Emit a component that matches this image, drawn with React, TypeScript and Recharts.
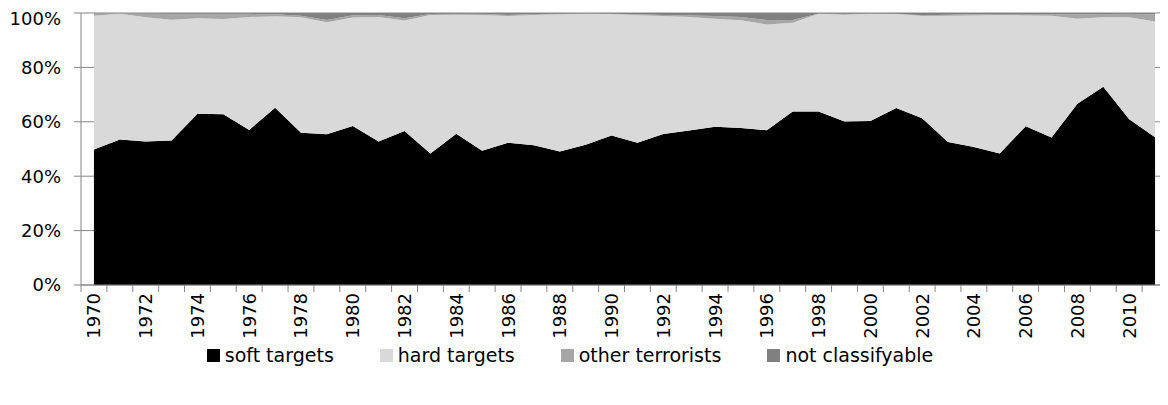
import { AreaChart, Area, XAxis, YAxis, CartesianGrid, Legend } from "recharts";

const years = [
  1970, 1971, 1972, 1973, 1974, 1975, 1976, 1977, 1978, 1979,
  1980, 1981, 1982, 1983, 1984, 1985, 1986, 1987, 1988, 1989,
  1990, 1991, 1992, 1993, 1994, 1995, 1996, 1997, 1998, 1999,
  2000, 2001, 2002, 2003, 2004, 2005, 2006, 2007, 2008, 2009,
  2010, 2011,
];

// shares in percent per year
const softTargets = [
  49.8, 53.5, 52.8, 53.1, 63.0, 62.8, 57.0, 65.2, 56.0, 55.4,
  58.5, 52.8, 56.6, 48.3, 55.6, 49.4, 52.3, 51.4, 49.1, 51.6,
  55.0, 52.3, 55.5, 56.8, 58.2, 57.7, 56.9, 63.8, 63.8, 60.1,
  60.3, 65.1, 61.3, 52.6, 50.7, 48.3, 58.4, 54.2, 66.6, 72.9,
  60.9, 54.3,
];
const hardTargets = [
  49.2, 46.2, 45.6, 44.4, 35.1, 35.0, 41.5, 33.6, 42.4, 41.2,
  39.8, 45.7, 40.6, 51.0, 43.8, 49.9, 46.6, 47.9, 50.4, 48.1,
  44.6, 46.9, 43.4, 41.7, 39.7, 39.6, 38.9, 32.6, 35.9, 39.3,
  39.4, 34.5, 37.6, 46.4, 48.4, 51.0, 40.7, 44.8, 31.3, 25.5,
  37.5, 42.6,
];
const otherTerrorists = [
  0.8, 0.2, 1.4, 2.2, 1.6, 1.9, 1.2, 0.7, 0.6, 0.8,
  0.9, 0.8, 0.9, 0.3, 0.3, 0.4, 0.4, 0.3, 0.2, 0.1,
  0.1, 0.3, 0.4, 0.6, 1.0, 1.2, 1.6, 1.0, 0.1, 0.3,
  0.1, 0.1, 0.3, 0.4, 0.4, 0.3, 0.5, 0.6, 1.6, 1.2,
  1.3, 2.6,
];
const notClassifyable = [
  0.2, 0.1, 0.2, 0.3, 0.3, 0.3, 0.3, 0.5, 1.0, 2.6,
  0.8, 0.7, 1.9, 0.4, 0.3, 0.3, 0.7, 0.4, 0.3, 0.2,
  0.3, 0.5, 0.7, 0.9, 1.1, 1.5, 2.6, 2.6, 0.2, 0.3,
  0.2, 0.3, 0.8, 0.6, 0.5, 0.4, 0.4, 0.4, 0.5, 0.4,
  0.3, 0.5,
];

const yearLabels = [
  1970, 1972, 1974, 1976, 1978, 1980, 1982, 1984, 1986, 1988, 1990,
  1992, 1994, 1996, 1998, 2000, 2002, 2004, 2006, 2008, 2010,
];
const percentTicks = [0, 0.2, 0.4, 0.6, 0.8, 1];

const seriesKeys = ["soft", "hard", "other", "unknown"];
const seriesNames = ["soft targets", "hard targets", "other terrorists", "not classifyable"];
const seriesColors = ["#000000", "#d9d9d9", "#a6a6a6", "#808080"];

const data = years.map((year, i) => ({
  year,
  soft: softTargets[i],
  hard: hardTargets[i],
  other: otherTerrorists[i],
  unknown: notClassifyable[i],
}));

// tick marks sit between the years, labels on every second year
const boundaryTicks = years.map((y) => y - 0.5);

const AXIS = "#868686";
const FONT = 18;

function YearTick(props: any) {
  const { x, y, payload } = props;
  const v = payload.value;
  if (yearLabels.includes(v)) {
    const ty = y + 1;
    return (
      <text
        x={x}
        y={ty}
        transform={`rotate(-90 ${x} ${ty})`}
        textAnchor="end"
        dominantBaseline="central"
        fontSize={FONT}
        fill="#000"
      >
        {v}
      </text>
    );
  }
  return <line x1={x} y1={y - 7} x2={x} y2={y} stroke={AXIS} />;
}

function LegendBox() {
  return (
    <div
      style={{
        display: "flex",
        justifyContent: "center",
        gap: 46,
        paddingRight: 36,
        fontSize: 19,
        color: "#000",
      }}
    >
      {seriesNames.map((name, i) => (
        <div key={name} style={{ display: "flex", alignItems: "center" }}>
          <span style={{ width: 13, height: 13, background: seriesColors[i], marginRight: 5 }} />
          <span>{name}</span>
        </div>
      ))}
    </div>
  );
}

export default function App() {
  return (
    <AreaChart
      width={1160}
      height={397}
      data={data}
      stackOffset="expand"
      margin={{ top: 5, right: 0, bottom: 31, left: 0 }}
      style={{ fontFamily: "'DejaVu Sans', sans-serif" }}
    >
      <CartesianGrid vertical={false} stroke={AXIS} />
      <XAxis
        dataKey="year"
        type="number"
        domain={[1969.5, 2011.5]}
        allowDataOverflow
        ticks={[...boundaryTicks, ...yearLabels]}
        interval={0}
        tick={<YearTick />}
        tickLine={false}
        tickSize={7}
        tickMargin={0}
        stroke={AXIS}
        height={59}
      />
      <YAxis
        domain={[0, 1]}
        ticks={percentTicks}
        tickFormatter={(v: number) => `${Math.round(v * 100)}%`}
        tick={{ fontSize: FONT, fill: "#000" }}
        tickSize={7}
        tickMargin={13}
        stroke={AXIS}
        width={73}
      />
      {seriesKeys.map((key, i) => (
        <Area
          key={key}
          type="linear"
          dataKey={key}
          name={seriesNames[i]}
          stackId="1"
          fill={seriesColors[i]}
          fillOpacity={1}
          stroke="none"
          isAnimationActive={false}
        />
      ))}
      <Legend verticalAlign="bottom" height={30} content={<LegendBox />} />
    </AreaChart>
  );
}
